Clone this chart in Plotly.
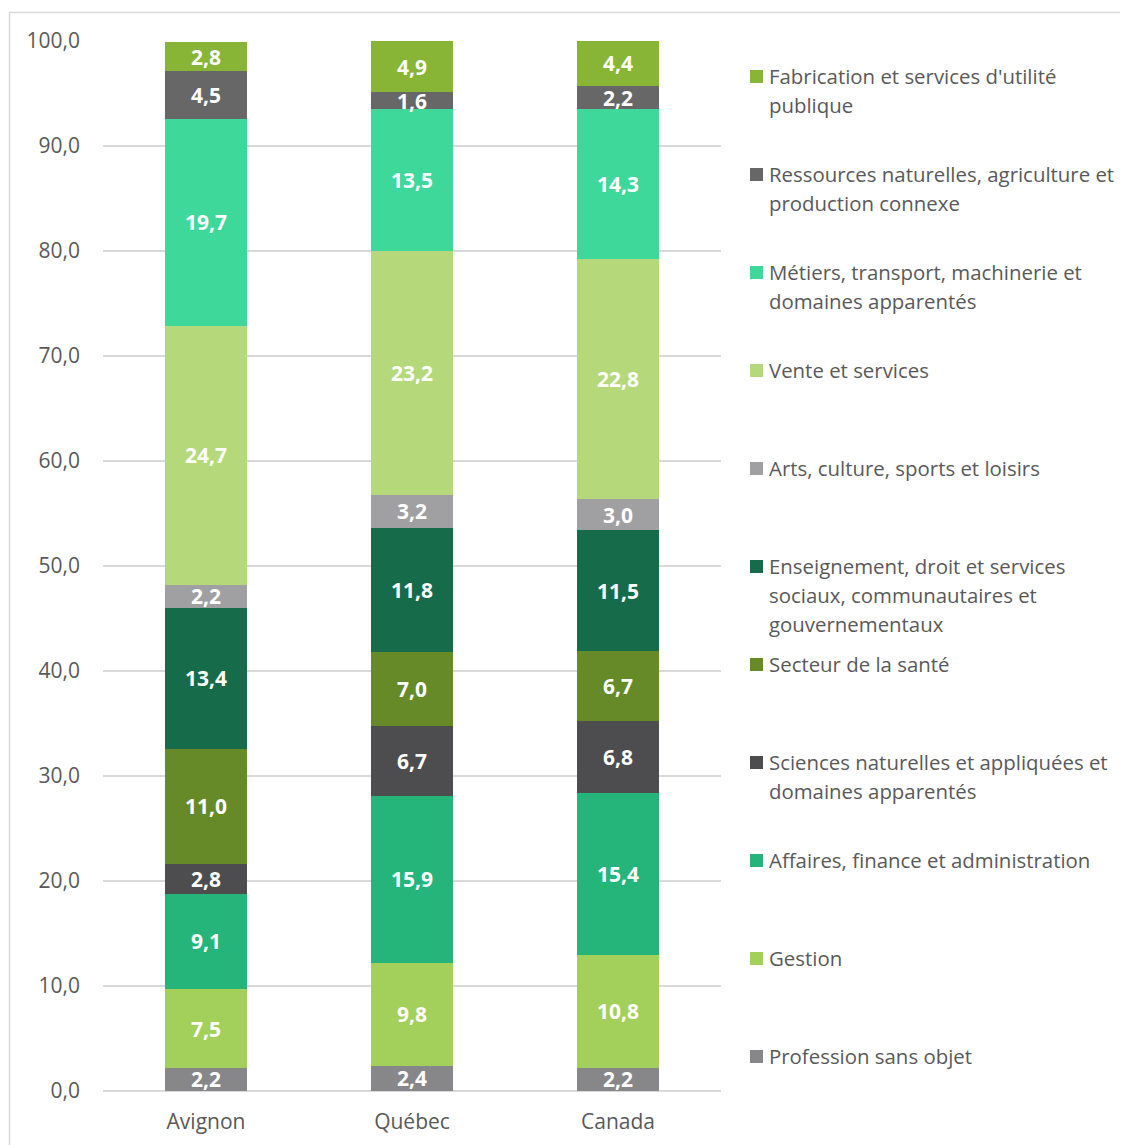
import plotly.graph_objects as go

categories = ["Avignon", "Québec", "Canada"]

series_names = [
    "Profession sans objet",
    "Gestion",
    "Affaires, finance et administration",
    "Sciences naturelles et appliquées et\ndomaines apparentés",
    "Secteur de la santé",
    "Enseignement, droit et services\nsociaux, communautaires et\ngouvernementaux",
    "Arts, culture, sports et loisirs",
    "Vente et services",
    "Métiers, transport, machinerie et\ndomaines apparentés",
    "Ressources naturelles, agriculture et\nproduction connexe",
    "Fabrication et services d'utilité\npublique",
]

profession_sans_objet = [2.2, 2.4, 2.2]
gestion = [7.5, 9.8, 10.8]
affaires = [9.1, 15.9, 15.4]
sciences = [2.8, 6.7, 6.8]
sante = [11.0, 7.0, 6.7]
enseignement = [13.4, 11.8, 11.5]
arts = [2.2, 3.2, 3.0]
vente = [24.7, 23.2, 22.8]
metiers = [19.7, 13.5, 14.3]
ressources = [4.5, 1.6, 2.2]
fabrication = [2.8, 4.9, 4.4]

series_values = [profession_sans_objet, gestion, affaires, sciences, sante,
                 enseignement, arts, vente, metiers, ressources, fabrication]

colors = ["#87878a", "#a3d05a", "#25b57b", "#4d4d4f", "#668a28",
          "#166b4a", "#a0a0a2", "#b5d97a", "#3dd89a", "#676768", "#88b535"]

y_ticks = [0, 10, 20, 30, 40, 50, 60, 70, 80, 90, 100]

OFF = 8  # page body margin
W, H = 1128 - OFF, 1145 - OFF
L, R, T, B = 103 - OFF, 721 - OFF, 41 - OFF, 1091 - OFF
FONT = "Open Sans"
FS = 21
LFS = 20.4

fig = go.Figure()
for name, vals, col in zip(series_names, series_values, colors):
    fig.add_trace(go.Bar(
        x=categories, y=vals, name=name.replace("\n", " "),
        marker=dict(color=col, line=dict(width=0)),
        width=0.4,
        texttemplate="%{y:.1f}", textposition="inside",
        insidetextanchor="middle",
        textfont=dict(family=FONT, size=FS, color="white", weight="bold"),
        showlegend=False,
    ))

def px_x(px):
    return (px - OFF - L) / (R - L)

def px_y(py):
    return (B - (py - OFF)) / (B - T)

annotations = []
shapes = []
legend_order = list(range(len(series_names)))[::-1]
for i, idx in enumerate(legend_order):
    cy = 76 + 98 * i
    shapes.append(dict(type="rect", xref="paper", yref="paper",
                       x0=px_x(750), x1=px_x(763), y0=px_y(cy + 7), y1=px_y(cy - 6),
                       fillcolor=colors[idx], line=dict(width=0)))
    for j, line in enumerate(series_names[idx].split("\n")):
        annotations.append(dict(
            xref="paper", yref="paper", x=px_x(767), y=px_y(cy + 29 * j),
            xanchor="left", yanchor="middle", showarrow=False, text=line,
            font=dict(family=FONT, size=LFS, color="#595959")))

# outer chart border
shapes.append(dict(type="rect", xref="paper", yref="paper",
                   x0=px_x(9.5), x1=px_x(1160), y0=px_y(1180), y1=px_y(12.5),
                   line=dict(color="#d9d9d9", width=1.5), fillcolor="rgba(0,0,0,0)",
                   layer="below"))

fig.update_layout(
    barmode="stack",
    width=W, height=H,
    margin=dict(l=L, r=W - R, t=T, b=H - B, autoexpand=False),
    paper_bgcolor="white", plot_bgcolor="white",
    separators=", ",
    uniformtext=dict(mode="show", minsize=FS),
    font=dict(family=FONT, color="#595959", size=FS),
    annotations=annotations,
    shapes=shapes,
    showlegend=False,
)
fig.update_yaxes(range=[0, 100], tickvals=y_ticks, tickformat=".1f",
                 showgrid=True, gridcolor="#d9d9d9", gridwidth=1.5,
                 zeroline=True, zerolinecolor="#d9d9d9", zerolinewidth=1.5,
                 ticks="", ticklabelstandoff=22, automargin=False,
                 tickfont=dict(family=FONT, size=FS, color="#595959"))
fig.update_xaxes(showgrid=False, ticks="", showline=False, ticklabelstandoff=16,
                 automargin=False,
                 tickfont=dict(family=FONT, size=FS, color="#595959"))

fig.write_html("out.html")
